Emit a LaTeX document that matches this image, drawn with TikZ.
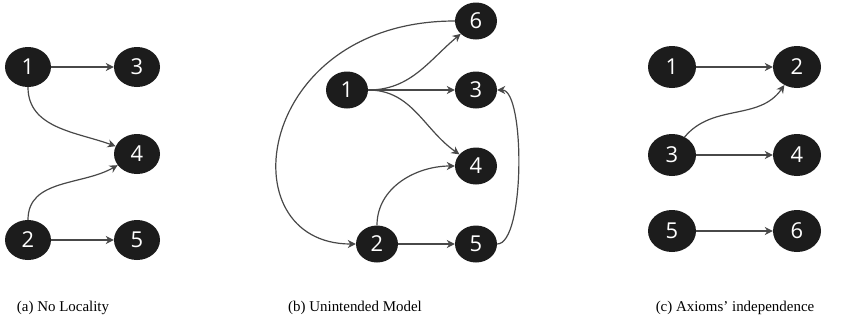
\documentclass[tikz,border=0pt]{standalone}
\usepackage{fontspec}
\setmainfont{Liberation Serif}
\newfontfamily\nodefont{Open Sans}
\usetikzlibrary{arrows.meta,shapes.geometric}
\definecolor{nodefill}{HTML}{1C1C1C}
\definecolor{edgecol}{HTML}{484848}
\begin{document}
\begin{tikzpicture}[x=1bp,y=-1bp,
  vtx/.style={ellipse,fill=nodefill,text=white,inner sep=0pt,font=\nodefont\fontsize{22}{22}\selectfont},
  vtxa/.style={vtx,minimum width=46bp,minimum height=40bp},
  vtxb/.style={vtx,minimum width=42bp,minimum height=37bp},
  vtxc/.style={vtx,minimum width=48bp,minimum height=42bp},
  edge/.style={draw=edgecol,line width=1.2bp,-{Stealth[length=8bp,width=8bp,inset=2.5bp]}},
  captext/.style={font=\fontsize{15}{17}\selectfont,anchor=base}]
\useasboundingbox (0,0) rectangle (854,322);
% panel a
\node[vtxa] (a1) at (28,67) {1};
\node[vtxa] (a3) at (137,67) {3};
\node[vtxa] (a4) at (137,154) {4};
\node[vtxa] (a2) at (28,240) {2};
\node[vtxa] (a5) at (137,240) {5};
\draw[edge] (a1) -- (a3);
\draw[edge] (a1.south) to[out=-90,in=160] (a4);
\draw[edge] (a2.north) to[out=90,in=210] (a4);
\draw[edge] (a2) -- (a5);
% panel b
\node[vtxb] (b6) at (476,21) {6};
\node[vtxb] (b1) at (347,90) {1};
\node[vtxb] (b3) at (476,90) {3};
\node[vtxb] (b4) at (476,166) {4};
\node[vtxb] (b2) at (377,244) {2};
\node[vtxb] (b5) at (476,244) {5};
\draw[edge] (b1.east) to[out=0,in=220] (b6);
\draw[edge] (b1) -- (b3);
\draw[edge] (b1.east) to[out=0,in=145] (b4);
\draw[edge] (b2.north) to[out=90,in=180] (b4.west);
\draw[edge] (b2) -- (b5);
\draw[edge] (b6.west) .. controls +(-200,0) and +(-130,0) .. (b2.west);
\draw[edge] (b5.east) .. controls +(28,0) and +(28,0) .. (b3.east);
% panel c
\node[vtxc] (c1) at (672,67) {1};
\node[vtxc] (c2) at (797,67) {2};
\node[vtxc] (c3) at (672,155) {3};
\node[vtxc] (c4) at (797,155) {4};
\node[vtxc] (c5) at (672,231) {5};
\node[vtxc] (c6) at (797,231) {6};
\draw[edge] (c1) -- (c2);
\draw[edge] (c3.55) to[out=50,in=235] (c2);
\draw[edge] (c3) -- (c4);
\draw[edge] (c5) -- (c6);
% captions
\node[captext] (capa) at (63,311) {(a) No Locality};
\node[captext] (capb) at (355,311) {(b) Unintended Model};
\node[captext] (capc) at (735,311) {(c) Axioms’ independence};
\end{tikzpicture}
\end{document}
